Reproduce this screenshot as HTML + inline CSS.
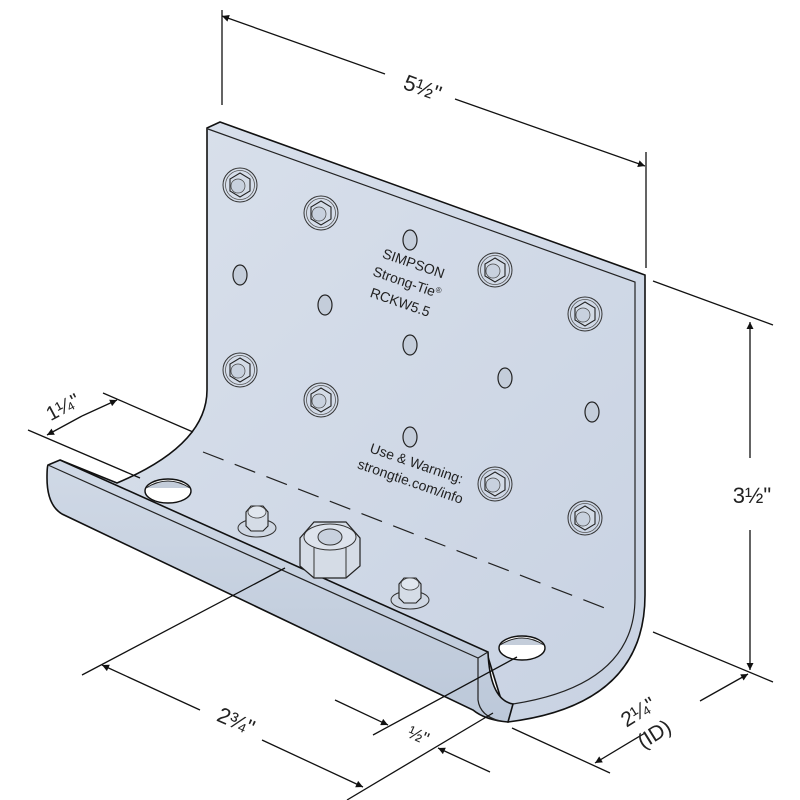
<!DOCTYPE html>
<html><head><meta charset="utf-8"><style>
html,body{margin:0;padding:0;background:#fff;}
svg{display:block;}
text{font-family:"Liberation Sans",sans-serif;fill:#222;}
</style></head><body>
<svg width="800" height="800" viewBox="0 0 800 800" xmlns="http://www.w3.org/2000/svg">
<defs>
<linearGradient id="pg" x1="0" y1="0" x2="1" y2="1">
<stop offset="0" stop-color="#dae1ec"/><stop offset="1" stop-color="#c8d2e2"/>
</linearGradient>
<linearGradient id="lg" x1="0" y1="0" x2="0" y2="1">
<stop offset="0" stop-color="#d0d9e6"/><stop offset="1" stop-color="#bcc8d9"/>
</linearGradient>
<marker id="ar" viewBox="0 0 10 10" refX="10" refY="5" markerWidth="9" markerHeight="7" orient="auto-start-reverse" markerUnits="userSpaceOnUse">
<path d="M0,0 L10,5 L0,10 Z" fill="#111"/></marker>
<g id="bolt">
<circle r="17" fill="none" stroke="#333" stroke-width="1"/>
<circle r="14.5" fill="none" stroke="#555" stroke-width="0.8"/>
<polygon points="0,-12 10,-6 10,6 0,12 -10,6 -10,-6" fill="#d3dbe6" stroke="#222" stroke-width="1.1"/>
<circle cx="-2" cy="1" r="7" fill="#c8d1de" stroke="#444" stroke-width="0.7"/>
</g>
<g id="hole"><ellipse rx="7" ry="10" fill="#c4cdda" stroke="#222" stroke-width="1.2"/></g>
<g id="sbolt">
<ellipse cx="0" cy="10" rx="19" ry="9" fill="#cfd7e3" stroke="#333" stroke-width="1"/>
<polygon points="-11,-6 -6,-12 6,-12 11,-6 11,8 6,13 -6,13 -11,8" fill="#d5dce6" stroke="#222" stroke-width="1.1"/>
<ellipse cx="0" cy="-6" rx="9" ry="6" fill="#e0e6ee" stroke="#444" stroke-width="0.8"/>
</g>
</defs>

<!-- plate -->
<path d="M207,128 L220,122 L645,275 L645,595 Q645,705 508,722 L488,657 L60,460 L117,483 Q207,445 207,390 Z" fill="url(#pg)" stroke="#111" stroke-width="1.6"/>
<path d="M208,129 L635,282 L635,598" fill="none" stroke="#222" stroke-width="1.2"/>
<path d="M635,598 Q635,685 513,704" fill="none" stroke="#222" stroke-width="1.2"/>
<!-- dashed bend -->
<line x1="203" y1="452" x2="615" y2="612" stroke="#222" stroke-width="1.2" stroke-dasharray="22,12"/>
<!-- lip -->
<path d="M47,478 Q47,467 48,465 L60,460 L488,652 Q490,700 513,704 L508,722 Q485,720 473,710 L62,514 Q47,505 47,478 Z" fill="url(#lg)" stroke="#111" stroke-width="1.6"/>
<path d="M48,465 L478,658 L478,700 Q480,716 500,721" fill="none" stroke="#222" stroke-width="1.2"/>
<line x1="478" y1="658" x2="488" y2="652" stroke="#222" stroke-width="1.2"/>

<!-- base holes -->
<ellipse cx="168" cy="491" rx="23" ry="12" fill="#fff" stroke="#111" stroke-width="1.4"/>
<path d="M146,488 Q168,474 190,488" fill="#c4cdda" stroke="#222" stroke-width="1"/>
<ellipse cx="522" cy="648" rx="23" ry="12" fill="#fff" stroke="#111" stroke-width="1.4"/>
<path d="M500,645 Q522,631 544,645" fill="#c4cdda" stroke="#222" stroke-width="1"/>

<!-- plate holes -->
<use href="#hole" x="240" y="275"/><use href="#hole" x="325" y="305"/>
<use href="#hole" x="410" y="240"/><use href="#hole" x="410" y="345"/>
<use href="#hole" x="505" y="378"/><use href="#hole" x="592" y="412"/>
<use href="#hole" x="410" y="437"/>

<!-- bolts -->
<use href="#bolt" x="240" y="185"/><use href="#bolt" x="321" y="213"/>
<use href="#bolt" x="495" y="270"/><use href="#bolt" x="585" y="314"/>
<use href="#bolt" x="240" y="370"/><use href="#bolt" x="321" y="400"/>
<use href="#bolt" x="495" y="484"/><use href="#bolt" x="585" y="518"/>

<!-- base bolts -->
<use href="#sbolt" x="257" y="518"/>
<use href="#sbolt" x="410" y="590"/>
<g>
<ellipse cx="330" cy="562" rx="27" ry="13" fill="#cfd7e3" stroke="#333" stroke-width="1"/>
<polygon points="300,538 314,522 346,522 360,538 360,566 346,578 314,578 300,566" fill="#d5dce6" stroke="#222" stroke-width="1.2"/>
<line x1="314" y1="545" x2="314" y2="578" stroke="#333"/><line x1="346" y1="545" x2="346" y2="578" stroke="#333"/>
<ellipse cx="330" cy="537" rx="26" ry="13" fill="#dde3ec" stroke="#333" stroke-width="1"/>
<ellipse cx="330" cy="537" rx="12" ry="8" fill="#c8d1de" stroke="#333" stroke-width="1"/>
</g>

<!-- plate text -->
<g transform="translate(412,268) rotate(19)">
<text x="0" y="0" font-size="14" text-anchor="middle">SIMPSON</text>
<text x="0" y="20" font-size="14" text-anchor="middle">Strong-Tie<tspan font-size="8" dy="-5">®</tspan></text>
<text x="0" y="41" font-size="14" text-anchor="middle">RCKW5.5</text>
</g>
<g transform="translate(415,468) rotate(19)">
<text x="0" y="0" font-size="14" text-anchor="middle">Use &amp; Warning:</text>
<text x="0" y="19" font-size="14" text-anchor="middle">strongtie.com/info</text>
</g>

<!-- dimensions -->
<g stroke="#111" stroke-width="1.3" fill="none">
<line x1="222" y1="10" x2="222" y2="105"/>
<line x1="646" y1="152" x2="646" y2="268"/>
<line x1="222" y1="16" x2="385" y2="74" marker-start="url(#ar)"/>
<line x1="455" y1="99" x2="645" y2="166" marker-end="url(#ar)"/>

<line x1="653" y1="281" x2="773" y2="325"/>
<line x1="750" y1="458" x2="750" y2="322" marker-end="url(#ar)"/>
<line x1="750" y1="530" x2="750" y2="670" marker-end="url(#ar)"/>

<line x1="653" y1="632" x2="773" y2="682"/>
<line x1="512" y1="728" x2="610" y2="773"/>
<line x1="645" y1="733" x2="595" y2="763" marker-end="url(#ar)"/>
<line x1="700" y1="701" x2="748" y2="674" marker-end="url(#ar)"/>

<line x1="28" y1="430" x2="140" y2="478"/>
<line x1="103" y1="393" x2="193" y2="432"/>
<line x1="82" y1="416" x2="47" y2="435" marker-end="url(#ar)"/>
<line x1="82" y1="416" x2="117" y2="400" marker-end="url(#ar)"/>

<line x1="285" y1="568" x2="82" y2="675"/>
<line x1="200" y1="710" x2="102" y2="665" marker-end="url(#ar)"/>
<line x1="262" y1="740" x2="363" y2="787" marker-end="url(#ar)"/>
<line x1="517" y1="657" x2="373" y2="735"/>
<line x1="493" y1="713" x2="347" y2="800"/>
<line x1="335" y1="700" x2="388" y2="725" marker-end="url(#ar)"/>
<line x1="490" y1="772" x2="438" y2="748" marker-end="url(#ar)"/>
</g>
<text transform="translate(420,95) rotate(20)" font-size="22" text-anchor="middle">5½"</text>
<text x="752" y="503" font-size="22" text-anchor="middle">3½"</text>
<text transform="translate(642,718) rotate(-32)" font-size="21" text-anchor="middle">2¼"</text>
<text transform="translate(658,740) rotate(-32)" font-size="21" text-anchor="middle">(ID)</text>
<text transform="translate(66,413) rotate(-28)" font-size="20" text-anchor="middle">1¼"</text>
<text transform="translate(233,728) rotate(24)" font-size="22" text-anchor="middle">2¾"</text>
<text transform="translate(416,741) rotate(24)" font-size="18" text-anchor="middle">½"</text>
</svg>
</body></html>
